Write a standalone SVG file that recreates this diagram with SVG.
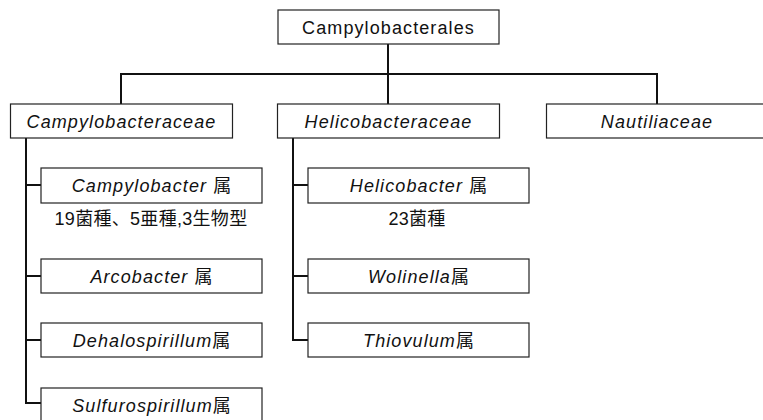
<svg xmlns="http://www.w3.org/2000/svg" width="763" height="420" viewBox="0 0 763 420">
<style>
.box{fill:#fff;stroke:#222;stroke-width:1.2}
.t{font-family:"Liberation Sans","Noto Sans CJK JP",sans-serif;font-size:18px;letter-spacing:1.1px;fill:#111;text-anchor:middle}
.i{font-style:italic}
.k{font-family:"Noto Sans CJK JP",sans-serif;font-style:normal;letter-spacing:0}
.n{font-family:"Liberation Sans","Noto Sans CJK JP",sans-serif;font-size:18px;letter-spacing:0.3px;fill:#111;text-anchor:middle}
.c{fill:none;stroke:#111;stroke-width:2}
</style>
<g id="connectors">
<path class="c" d="M388,44 V74 M121,104 V74 H657 V104 M388,74 V104"/>
<path class="c" d="M26,138 V403 H41 M26,185 H41 M26,276 H41 M26,340 H41"/>
<path class="c" d="M293,138 V340 H308 M293,185 H308 M293,276 H308"/>
</g>
<g id="order"><rect class="box" x="278" y="10" width="221" height="34"/><text class="t" x="388.5" y="33.5">Campylobacterales</text></g>
<g id="campylobacteraceae"><rect class="box" x="10.5" y="104" width="222" height="34"/><text class="t i" x="121.5" y="128">Campylobacteraceae</text></g>
<g id="helicobacteraceae"><rect class="box" x="277.5" y="104" width="222" height="34"/><text class="t i" x="388.5" y="128">Helicobacteraceae</text></g>
<g id="nautiliaceae"><rect class="box" x="546.5" y="104" width="222" height="34"/><text class="t i" x="657" y="128">Nautiliaceae</text></g>
<g id="campylobacter"><rect class="box" x="41" y="168" width="221" height="35"/><text class="t" x="151.5" y="192"><tspan class="i">Campylobacter</tspan> <tspan class="k">属</tspan></text></g>
<g id="campylobacter-note"><text class="n" x="151" y="225">19菌種、5亜種,3生物型</text></g>
<g id="arcobacter"><rect class="box" x="41" y="259" width="221" height="34"/><text class="t" x="151.5" y="283"><tspan class="i">Arcobacter</tspan> <tspan class="k">属</tspan></text></g>
<g id="dehalospirillum"><rect class="box" x="41" y="323" width="221" height="34"/><text class="t" x="151.5" y="347"><tspan class="i">Dehalospirillum</tspan><tspan class="k">属</tspan></text></g>
<g id="sulfurospirillum"><rect class="box" x="41" y="388" width="221" height="40"/><text class="t" x="151.5" y="412"><tspan class="i">Sulfurospirillum</tspan><tspan class="k">属</tspan></text></g>
<g id="helicobacter"><rect class="box" x="308" y="168" width="221" height="35"/><text class="t" x="418.5" y="192"><tspan class="i">Helicobacter</tspan> <tspan class="k">属</tspan></text></g>
<g id="helicobacter-note"><text class="n" x="417" y="225">23菌種</text></g>
<g id="wolinella"><rect class="box" x="308" y="259" width="221" height="34"/><text class="t" x="418.5" y="283"><tspan class="i">Wolinella</tspan><tspan class="k">属</tspan></text></g>
<g id="thiovulum"><rect class="box" x="308" y="323" width="221" height="34"/><text class="t" x="418.5" y="347"><tspan class="i">Thiovulum</tspan><tspan class="k">属</tspan></text></g>
</svg>
